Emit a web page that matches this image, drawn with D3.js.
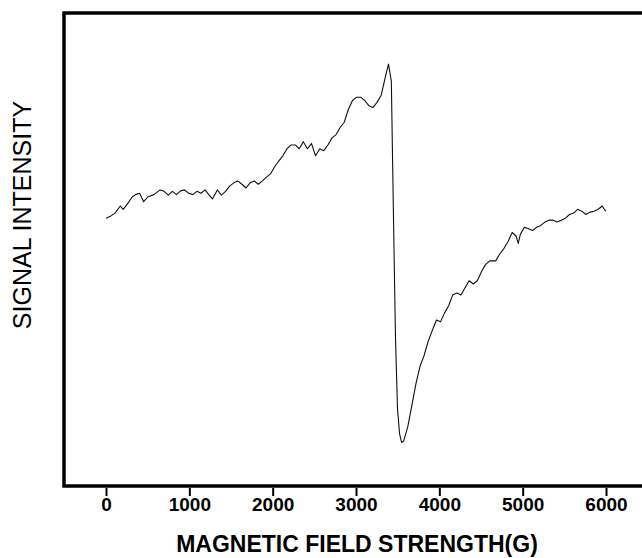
<!DOCTYPE html>
<html>
<head>
<meta charset="utf-8">
<script src="https://cdn.jsdelivr.net/npm/d3@7"></script>
<style>
  body { margin: 0; background: #fff; }
  svg { display: block; }
  text { font-family: "Liberation Sans", Arial, sans-serif; fill: #000; }
</style>
</head>
<body>
<svg width="642" height="558"></svg>
<script>
// magnetic field (G) and signal intensity (arbitrary units)
var field = [
  0, 59, 108, 172, 206, 255, 314, 354, 403, 452, 501, 575, 649, 698, 747, 796,
  845, 894, 943, 992, 1042, 1091, 1140, 1189, 1238, 1277, 1336, 1385, 1435, 1484,
  1533, 1582, 1631, 1680, 1729, 1779, 1828, 1877, 1926, 1975, 2024, 2073, 2122,
  2172, 2221, 2270, 2319, 2368, 2417, 2466, 2515, 2565, 2614, 2663, 2712, 2761,
  2810, 2859, 2908, 2958, 3007, 3056, 3105, 3154, 3203, 3252, 3302, 3351, 3390,
  3424, 3449, 3474, 3498, 3523, 3547, 3572, 3621, 3670, 3719, 3768, 3817, 3867,
  3916, 3965, 4014, 4063, 4112, 4161, 4211, 4260, 4309, 4358, 4407, 4456, 4505,
  4554, 4604, 4677, 4726, 4775, 4825, 4874, 4923, 4947, 4972, 5021, 5070, 5119,
  5168, 5218, 5267, 5316, 5365, 5414, 5463, 5512, 5561, 5611, 5660, 5709, 5758,
  5808, 5857, 5906, 5955, 5979, 6000
];
var signal = [
  56.6, 57.1, 57.7, 59.2, 58.5, 59.6, 61.1, 61.6, 61.9, 60.1, 61.1, 61.6, 62.6, 62.3, 61.5, 62.3,
  61.6, 62.4, 62.6, 61.9, 61.6, 62.3, 61.9, 62.6, 61.5, 60.7, 62.6, 61.5, 62.3, 63.4,
  64.1, 64.5, 63.8, 63.0, 64.1, 64.5, 63.8, 64.5, 65.3, 66.0, 67.5, 68.7, 69.8,
  71.3, 72.1, 72.1, 71.3, 72.8, 71.3, 72.4, 69.8, 71.3, 70.9, 72.1, 73.6, 74.3,
  75.8, 76.9, 79.6, 81.5, 82.2, 82.2, 81.5, 80.4, 80.0, 81.1, 82.6, 86.4, 89.2,
  85.6, 57.7, 31.3, 16.3, 11.0, 9.2, 9.5, 12.5, 17.0, 21.6, 25.3, 27.6, 30.6,
  32.9, 35.1, 34.7, 36.6, 38.1, 40.4, 40.8, 40.4, 41.9, 43.4, 42.7, 43.4, 45.3,
  46.8, 47.6, 47.6, 49.1, 50.2, 51.7, 53.6, 52.8, 51.3, 53.2, 54.7, 54.4, 54.0,
  54.7, 55.1, 55.8, 56.2, 56.2, 55.8, 56.2, 56.6, 57.4, 57.7, 58.5, 58.1, 57.4,
  57.9, 58.1, 58.5, 59.2, 58.5, 58.1
];
var xTicks = [0, 1000, 2000, 3000, 4000, 5000, 6000];

var svg = d3.select('svg'),
  width = +svg.attr('width'),
  height = +svg.attr('height');

var plotLeft = 64, plotTop = 13, plotBottom = 486;

var x = d3.scaleLinear().domain([0, 6000]).range([106, 606]);
var y = d3.scaleLinear().domain([0, 100]).range([plotBottom, plotTop]);

var data = field.map(function (f, i) {
  return { f: f, s: signal[i] };
});

// trace
svg
  .append('path')
  .datum(data)
  .attr('fill', 'none')
  .attr('stroke', '#111')
  .attr('stroke-width', 1.1)
  .attr('stroke-linejoin', 'round')
  .attr('d', d3.line().x(function (d) { return x(d.f); }).y(function (d) { return y(d.s); }));

// frame (right side runs off the page)
svg
  .append('path')
  .attr('fill', 'none')
  .attr('stroke', '#000')
  .attr('stroke-width', 3.5)
  .attr('d', 'M' + (width + 10) + ',' + plotTop + 'H' + plotLeft + 'V' + plotBottom + 'H' + (width + 10));

// x axis
var xAxis = svg
  .append('g')
  .attr('transform', 'translate(0,' + (plotBottom + 2) + ')')
  .call(d3.axisBottom(x).tickValues(xTicks).tickSize(8).tickPadding(2).tickFormat(d3.format('d')));

xAxis.select('.domain').remove();
xAxis.selectAll('.tick line').attr('stroke', '#000').attr('stroke-width', 2);
xAxis
  .selectAll('.tick text')
  .style('font-family', '"Liberation Sans", Arial, sans-serif')
  .style('font-size', '19px')
  .style('font-weight', 'bold')
  .attr('fill', '#000');

svg
  .append('text')
  .attr('x', 357)
  .attr('y', 552)
  .attr('text-anchor', 'middle')
  .style('font-size', '23px')
  .style('font-weight', 'bold')
  .text('MAGNETIC FIELD STRENGTH(G)');

svg
  .append('text')
  .attr('transform', 'translate(31,215) rotate(-90)')
  .attr('text-anchor', 'middle')
  .style('font-size', '25px')
  .text('SIGNAL INTENSITY');
</script>
</body>
</html>
